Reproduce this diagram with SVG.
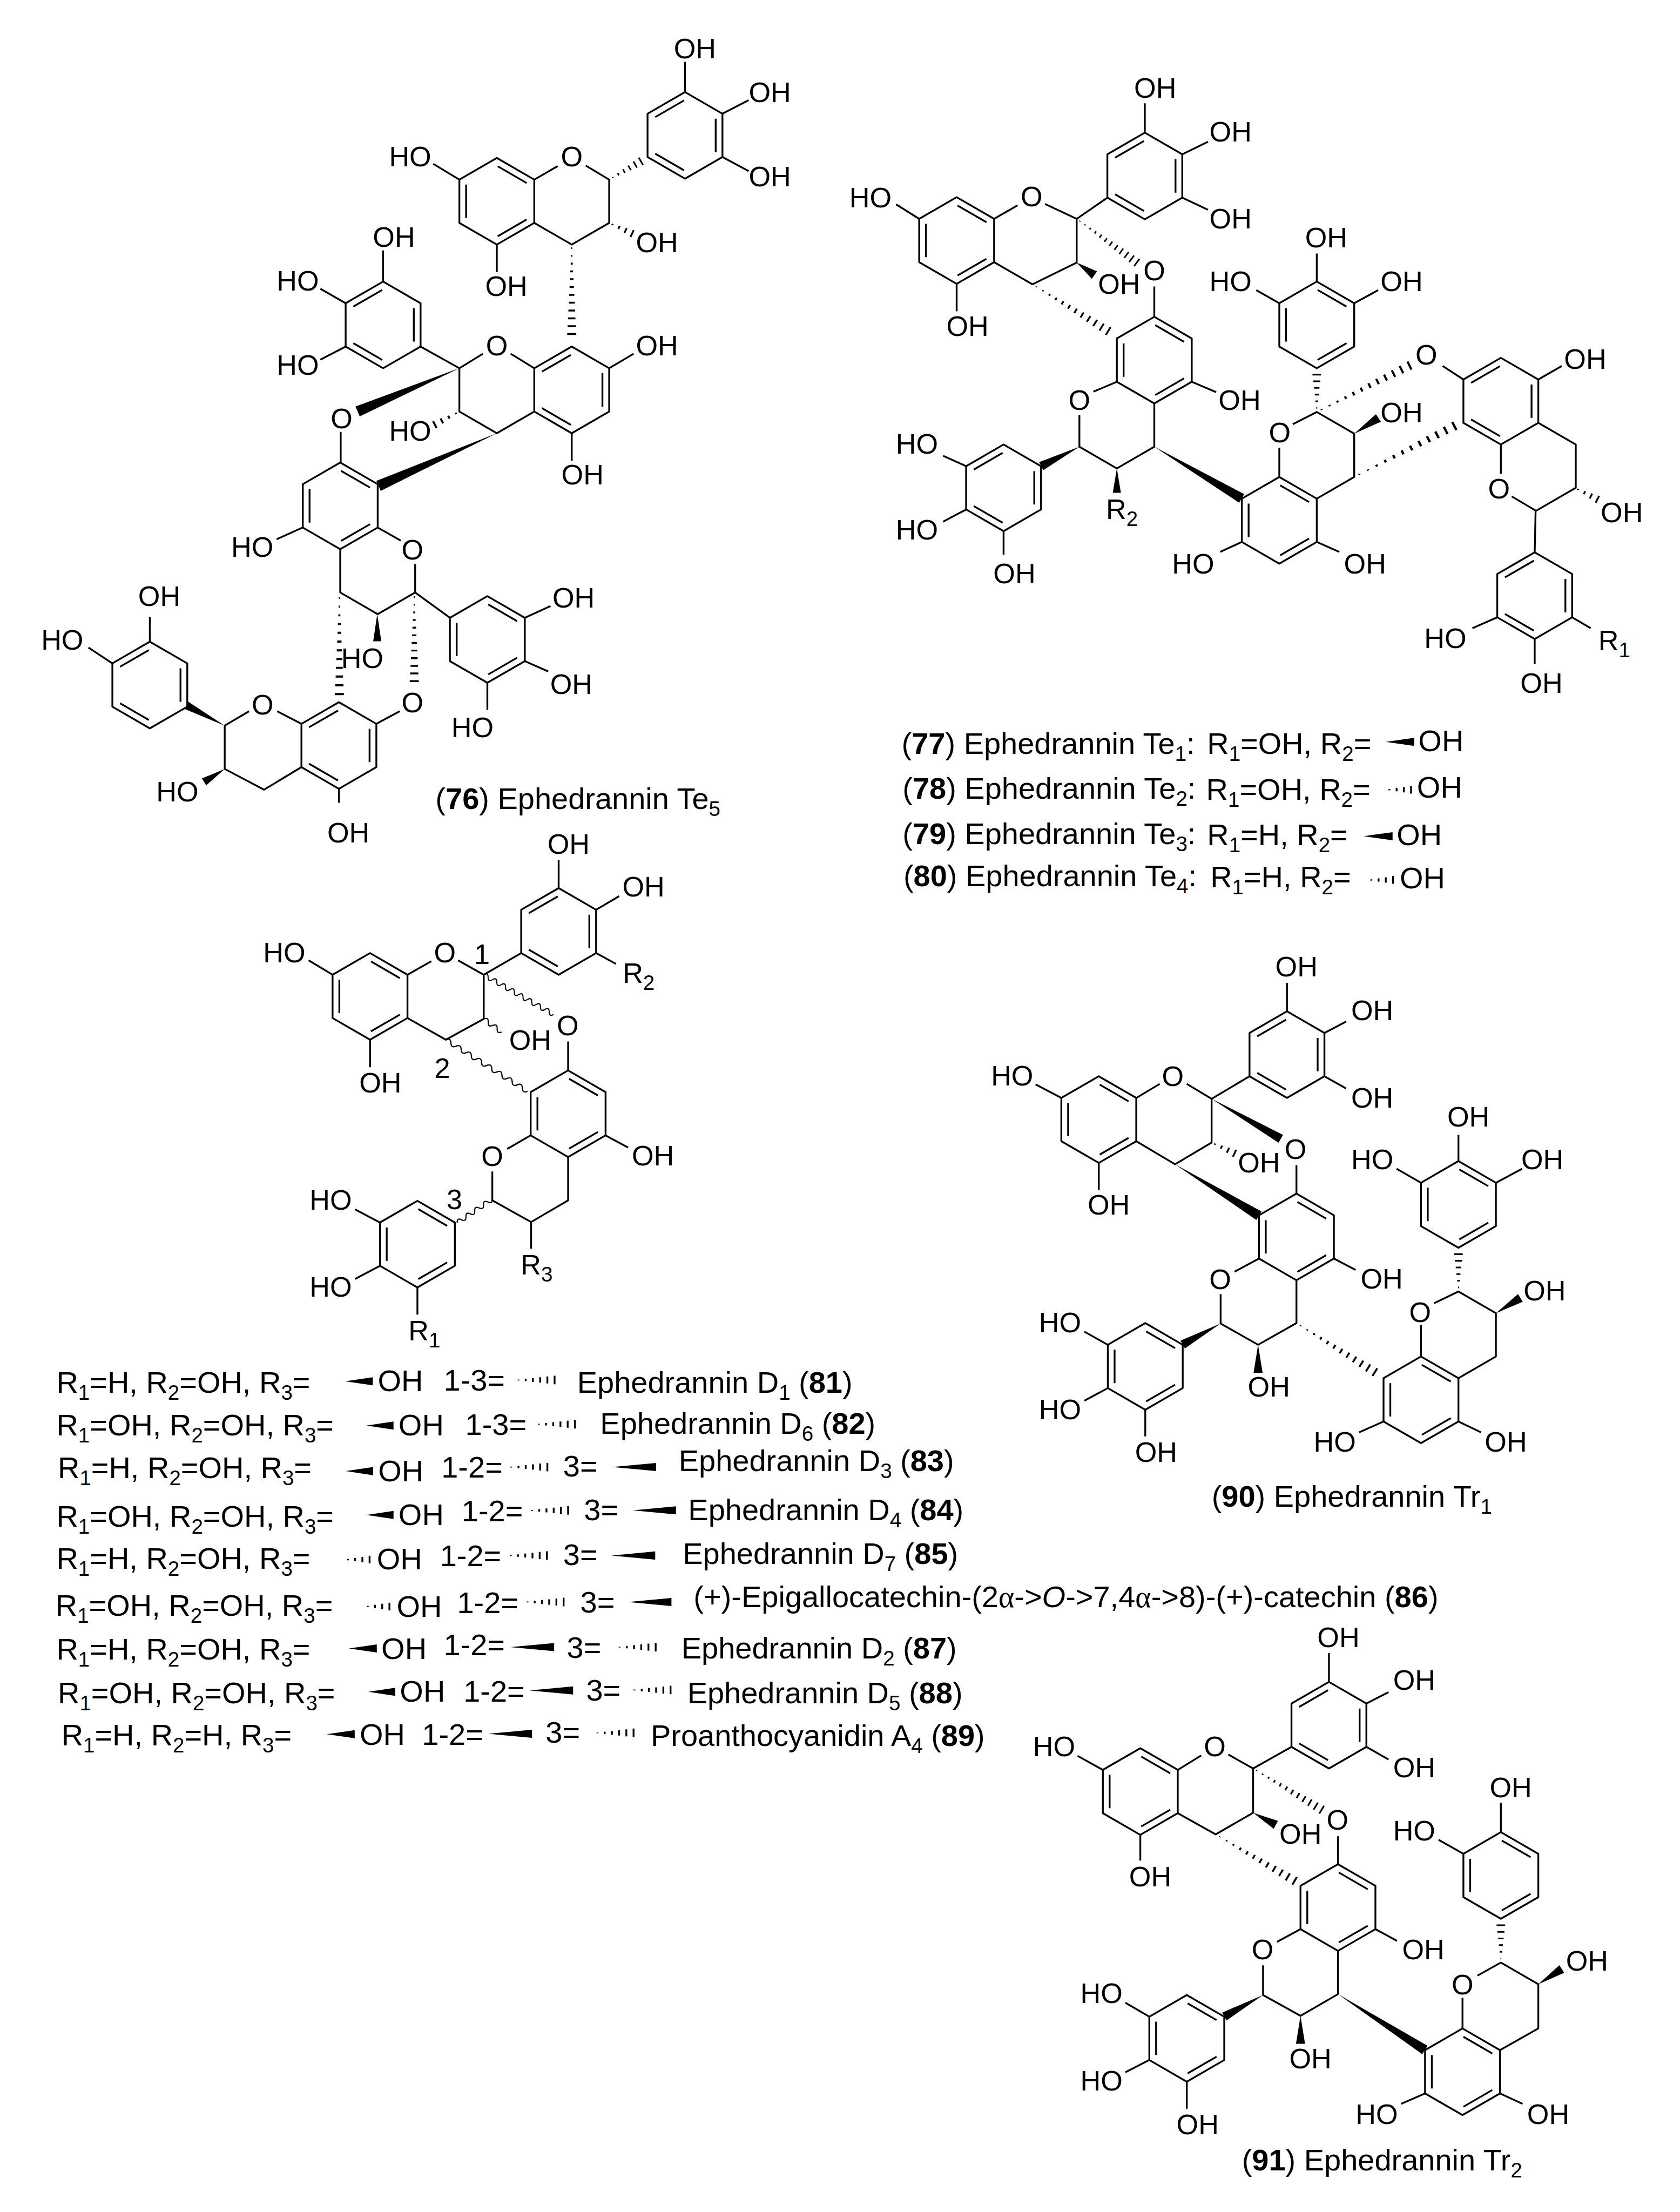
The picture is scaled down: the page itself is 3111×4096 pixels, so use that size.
<svg xmlns="http://www.w3.org/2000/svg" width="3111" height="4096" viewBox="0 0 3111 4096">
<style>
text{font-family:"Liberation Sans",Arial,sans-serif;fill:#000}
.a{font-size:62.5px;text-anchor:middle}
.c{font-size:67px}
.s{font-size:46px;baseline-shift:-15px}
.bd{font-weight:bold}
.b{fill:none;stroke:#000;stroke-width:4;stroke-linejoin:round}
.h{fill:none;stroke:#000;stroke-width:4}
.y{fill:none;stroke:#000;stroke-width:2.6}
.w{fill:#000}
</style>
<defs>
<g id="ra" class="b"><path d="M0-96L83-48V48L0 96L-83 48V-48Z"/><path d="M2-77.5L66-40.5M66 40.5L2 77.5M-68 37V-37"/></g>
<g id="rb" class="b"><path d="M0-96L83-48V48L0 96L-83 48V-48Z"/><path d="M68-37V37M-2 77.5L-66 40.5M-66-40.5L-2-77.5"/></g>
<path id="w" class="w" d="M0 0L100-10V10Z"/>
<path id="h60" class="h" d="M8-1.5V1.5M24-3.6V3.6M40-6V6M56-8.5V8.5"/>
<path id="h100" class="h" d="M10-1V1M26-2.7V2.7M42-4.4V4.4M58-6V6M74-7.8V7.8M90-9.5V9.5"/>
<path id="h200" class="h" d="M10-1V1M26.5-1.4V1.4M43-2.2V2.2M59.5-3.1V3.1M76-4V4M92.5-4.8V4.8M109-5.7V5.7M125.5-6.5V6.5M142-7.4V7.4M158.5-8.2V8.2M175-9.1V9.1M191.5-10V10"/>
<path id="v50" class="y" d="M0 0q6.25-10 12.5 0t12.5 0t12.5 0t12.5 0"/>
<path id="v100" class="y" d="M0 0q6.25-10 12.5 0t12.5 0t12.5 0t12.5 0t12.5 0t12.5 0t12.5 0t12.5 0"/>
<path id="v200" class="y" d="M0 0q6.25-10 12.5 0t12.5 0t12.5 0t12.5 0t12.5 0t12.5 0t12.5 0t12.5 0t12.5 0t12.5 0t12.5 0t12.5 0t12.5 0t12.5 0t12.5 0t12.5 0"/>
</defs>
<rect width="3111" height="4096" fill="#fff"/>
<g transform="scale(0.83562)">

<g id="c76">
<use href="#rb" x="1518" y="300"/><use href="#ra" x="1101" y="446"/><use href="#rb" x="1267" y="864"/><use href="#rb" x="849" y="720"/><use href="#ra" x="754" y="1121"/><use href="#ra" x="1080" y="1417"/><use href="#rb" x="751" y="1652"/><use href="#rb" x="332" y="1518"/>
<path class="b" d="M1184 398L1236 368M1298 367L1350 398V494L1267 542L1184 494M1518 204V137M1601 252L1659 222M1601 348L1659 379M1018 398L960 363M1101 542V603M1132 784L1184 816M1070 784L1018 816V912L1101 960L1184 912M1018 816L932 768M1350 816L1404 784M1267 960V1021M849 624V555M766 672L710 640M766 768L710 797M755 957V1025M671 1169L613 1195M837 1169L888 1198M920 1250V1313L837 1361L754 1313V1217M920 1313L997 1369M1163 1369L1220 1343M1163 1465L1215 1488M1080 1513V1573M834 1604L886 1576M751 1748V1779M668 1604L614 1576M552 1576L498 1608V1704L585 1750L668 1700M332 1422V1367M249 1470L196 1435"/>
<use href="#h100" transform="translate(1350 398) rotate(-30) scale(.9 1)"/>
<use href="#h60" transform="translate(1350 494) rotate(25)"/>
<use href="#h200" transform="translate(1267 539) rotate(90) scale(1.05 1)"/>
<use href="#w" transform="translate(1018 816) rotate(157) scale(2.45 1.2)"/>
<use href="#h60" transform="translate(1018 912) rotate(152) scale(1.1 1)"/>
<use href="#w" transform="translate(1101 960) rotate(156) scale(2.87 1.2)"/>
<use href="#w" transform="translate(836 1361) rotate(90) scale(.6 .9)"/>
<use href="#h200" transform="translate(752 1313) rotate(90) scale(1.175 1)"/>
<use href="#h200" transform="translate(918 1313) rotate(90) scale(1.025 1)"/>
<use href="#w" transform="translate(498 1608) rotate(208) scale(.96 .9)"/>
<use href="#w" transform="translate(498 1704) rotate(148) scale(.54 .9)"/>
<text class="a" x="1540" y="129">OH</text><text class="a" x="1706" y="226">OH</text><text class="a" x="1706" y="413">OH</text><text class="a" x="909" y="369">HO</text><text class="a" x="1267" y="369">O</text><text class="a" x="1122" y="656">OH</text><text class="a" x="1456" y="559">OH</text><text class="a" x="1456" y="787">OH</text><text class="a" x="1291" y="1074">OH</text><text class="a" x="873" y="547">OH</text><text class="a" x="660" y="644">HO</text><text class="a" x="660" y="831">HO</text><text class="a" x="1101" y="787">O</text><text class="a" x="757" y="949">O</text><text class="a" x="909" y="977">HO</text><text class="a" x="559" y="1234">HO</text><text class="a" x="914" y="1240">O</text><text class="a" x="1271" y="1346">OH</text><text class="a" x="1266" y="1538">OH</text><text class="a" x="1047" y="1634">HO</text><text class="a" x="803" y="1480">HO</text><text class="a" x="914" y="1579">O</text><text class="a" x="772" y="1867">OH</text><text class="a" x="582" y="1583">O</text><text class="a" x="353" y="1343">OH</text><text class="a" x="138" y="1440">HO</text><text class="a" x="393" y="1776">HO</text>
<text class="c" x="965" y="1793">(<tspan class="bd">76</tspan>) Ephedrannin Te<tspan class="s">5</tspan></text>
</g>

<g id="c77">
<use href="#rb" x="2537" y="390"/><use href="#ra" x="2120" y="533"/><use href="#ra" x="2558" y="798"/><use href="#rb" x="2224" y="1081"/><use href="#ra" x="2835" y="1153"/><use href="#ra" x="2918" y="720"/><use href="#rb" x="3326" y="889"/><use href="#rb" x="3401" y="1320"/>
<path class="b" d="M2537 294V229M2620 342L2677 314M2620 438L2677 465M2203 485L2255 455M2316 452L2386 485V582L2288 630L2203 581M2386 485L2454 438M2037 485L1986 453M2120 629V690M2558 702V635M2641 846L2695 869M2475 846L2423 868M2392 920V990L2475 1038L2558 990V894M2141 1033L2090 1010M2141 1129L2090 1156M2224 1177V1229M2752 1201L2704 1223M2918 1201L2968 1223M2835 1057V992M2865 940L2918 913L3001 961V1057L2918 1105M2918 624V562M2835 672L2784 643M3001 672L3054 643M3197 811L3243 841M3409 841L3461 811M3409 937L3492 985V1081L3404 1132L3350 1100M3326 1050V985M3403 1132L3401 1224M3318 1368L3263 1392M3484 1368L3525 1392M3401 1416V1471"/>
<use href="#h200" transform="translate(2386 485) rotate(36) scale(.86 1)"/>
<use href="#w" transform="translate(2386 582) rotate(35) scale(.48 1)"/>
<use href="#h200" transform="translate(2288 630) rotate(31.7) scale(1.03 1)"/>
<use href="#w" transform="translate(2392 990) rotate(153) scale(.95 1)"/>
<use href="#w" transform="translate(2475 1038) rotate(90) scale(.54 .9)"/>
<use href="#w" transform="translate(2558 990) rotate(30.6) scale(2.25 1.1)"/>
<use href="#h100" transform="translate(2918 913) rotate(-90) scale(.92 1)"/>
<use href="#w" transform="translate(3001 961) rotate(-33) scale(.64 1)"/>
<use href="#h200" transform="translate(3001 1057) rotate(-27) scale(1.3 1)"/>
<use href="#h200" transform="translate(2918 913) rotate(-26.6) scale(1.2 1)"/>
<use href="#h60" transform="translate(3490 1081) rotate(27)"/>
<text class="a" x="2560" y="217">OH</text><text class="a" x="2727" y="314">OH</text><text class="a" x="2727" y="506">OH</text><text class="a" x="1929" y="459">HO</text><text class="a" x="2286" y="457">O</text><text class="a" x="2144" y="744">OH</text><text class="a" x="2480" y="651">OH</text><text class="a" x="2558" y="621">O</text><text class="a" x="2747" y="908">OH</text><text class="a" x="2392" y="908">O</text><text class="a" x="2032" y="1005">HO</text><text class="a" x="2032" y="1196">HO</text><text class="a" x="2248" y="1293">OH</text><text class="a" x="2644" y="1271">HO</text><text class="a" x="3025" y="1271">OH</text><text class="a" x="2836" y="980">O</text><text class="a" x="2939" y="548">OH</text><text class="a" x="2727" y="645">HO</text><text class="a" x="3106" y="645">OH</text><text class="a" x="3106" y="936">OH</text><text class="a" x="3161" y="808">O</text><text class="a" x="3513" y="817">OH</text><text class="a" x="3322" y="1105">O</text><text class="a" x="3594" y="1157">OH</text><text class="a" x="3203" y="1436">HO</text><text class="a" x="3416" y="1535">OH</text>
<text class="a" style="text-anchor:start" x="2451" y="1150">R<tspan class="s">2</tspan></text>
<text class="a" style="text-anchor:start" x="3542" y="1441">R<tspan class="s">1</tspan></text>
</g>

<g id="c77-80-labels">
<text class="c" x="1998" y="1671">(<tspan class="bd">77</tspan>) Ephedrannin Te<tspan class="s">1</tspan>:</text><text class="c" x="2675" y="1671">R<tspan class="s">1</tspan>=OH, R<tspan class="s">2</tspan>=</text>
<use href="#w" transform="translate(3071 1644) scale(.63 .9)"/><text class="c" x="3143" y="1665">OH</text>
<text class="c" x="2000" y="1770">(<tspan class="bd">78</tspan>) Ephedrannin Te<tspan class="s">2</tspan>:</text><text class="c" x="2673" y="1772">R<tspan class="s">1</tspan>=OH, R<tspan class="s">2</tspan>=</text>
<use href="#h60" transform="translate(3071 1750)"/><text class="c" x="3140" y="1768">OH</text>
<text class="c" x="2000" y="1871">(<tspan class="bd">79</tspan>) Ephedrannin Te<tspan class="s">3</tspan>:</text><text class="c" x="2675" y="1873">R<tspan class="s">1</tspan>=H, R<tspan class="s">2</tspan>=</text>
<use href="#w" transform="translate(3022 1853) scale(.64 .9)"/><text class="c" x="3095" y="1873">OH</text>
<text class="c" x="2002" y="1964">(<tspan class="bd">80</tspan>) Ephedrannin Te<tspan class="s">4</tspan>:</text><text class="c" x="2682" y="1966">R<tspan class="s">1</tspan>=H, R<tspan class="s">2</tspan>=</text>
<use href="#h60" transform="translate(3031 1950)"/><text class="c" x="3102" y="1968">OH</text>
</g>

<g id="c81-89">
<use href="#rb" x="1238" y="2064"/><use href="#ra" x="820" y="2208"/><use href="#ra" x="1259" y="2468"/><use href="#ra" x="925" y="2757"/>
<path class="b" d="M1238 1968V1906M1321 2016L1372 1986M1321 2112L1365 2136M903 2160L956 2130M1015 2128L1072 2160V2258L988 2304L903 2256M1072 2160L1155 2112M737 2160L684 2128M820 2304V2365M1259 2372V2308M1342 2516L1392 2543M1176 2516L1124 2546M1091 2596V2660L1177 2708L1259 2660V2564M1177 2708V2767M842 2709L787 2680M842 2805L787 2834M925 2853V2913"/>
<use href="#v200" transform="translate(1072 2160) rotate(29.6) scale(.89 1)"/>
<use href="#v50" transform="translate(1072 2258) rotate(36) scale(.98 1)"/>
<use href="#v200" transform="translate(988 2304) rotate(32.3) scale(1.07 1)"/>
<use href="#v100" transform="translate(1091 2657) rotate(146) scale(.94 1)"/>
<text class="a" x="1260" y="1892">OH</text><text class="a" x="1426" y="1986">OH</text><text class="a" x="630" y="2132">HO</text><text class="a" x="986" y="2132">O</text><text class="a" x="843" y="2421">OH</text><text class="a" x="1175" y="2327">OH</text><text class="a" x="1258" y="2294">O</text><text class="a" x="1447" y="2583">OH</text><text class="a" x="1091" y="2584">O</text><text class="a" x="733" y="2681">HO</text><text class="a" x="733" y="2873">HO</text>
<text class="a" style="text-anchor:start" x="1380" y="2178">R<tspan class="s">2</tspan></text>
<text class="a" style="text-anchor:start" x="1154" y="2824">R<tspan class="s">3</tspan></text>
<text class="a" style="text-anchor:start" x="905" y="2970">R<tspan class="s">1</tspan></text>
<text class="a" x="1068" y="2136">1</text><text class="a" x="980" y="2389">2</text><text class="a" x="1007" y="2680">3</text>
</g>

<g id="list">
<text class="c" x="125" y="3086">R<tspan class="s">1</tspan>=H, R<tspan class="s">2</tspan>=OH, R<tspan class="s">3</tspan>=</text><use href="#w" transform="translate(765 3061) scale(.61 .9)"/><text class="c" x="837" y="3083">OH</text><text class="c" x="983" y="3082">1-3=</text><use href="#h100" transform="translate(1139 3058)"/><text class="c" x="1279" y="3086">Ephedrannin D<tspan class="s">1</tspan> (<tspan class="bd">81</tspan>)</text>

<text class="c" x="125" y="3181">R<tspan class="s">1</tspan>=OH, R<tspan class="s">2</tspan>=OH, R<tspan class="s">3</tspan>=</text><use href="#w" transform="translate(812 3159) scale(.6 .9)"/><text class="c" x="883" y="3181">OH</text><text class="c" x="1031" y="3180">1-3=</text><use href="#h100" transform="translate(1184 3156)"/><text class="c" x="1330" y="3177">Ephedrannin D<tspan class="s">6</tspan> (<tspan class="bd">82</tspan>)</text>

<text class="c" x="128" y="3275">R<tspan class="s">1</tspan>=H, R<tspan class="s">2</tspan>=OH, R<tspan class="s">3</tspan>=</text><use href="#w" transform="translate(766 3260) scale(.61 .9)"/><text class="c" x="838" y="3283">OH</text><text class="c" x="978" y="3274">1-2=</text><use href="#h100" transform="translate(1123 3251)"/><text class="c" x="1248" y="3272">3=</text><use href="#w" transform="translate(1357 3251) scale(.97 .9)"/><text class="c" x="1504" y="3260">Ephedrannin D<tspan class="s">3</tspan> (<tspan class="bd">83</tspan>)</text>

<text class="c" x="125" y="3383">R<tspan class="s">1</tspan>=OH, R<tspan class="s">2</tspan>=OH, R<tspan class="s">3</tspan>=</text><use href="#w" transform="translate(812 3357) scale(.6 .9)"/><text class="c" x="883" y="3380">OH</text><text class="c" x="1023" y="3371">1-2=</text><use href="#h100" transform="translate(1169 3347)"/><text class="c" x="1294" y="3369">3=</text><use href="#w" transform="translate(1402 3347) scale(.96 .9)"/><text class="c" x="1525" y="3369">Ephedrannin D<tspan class="s">4</tspan> (<tspan class="bd">84</tspan>)</text>

<text class="c" x="125" y="3476">R<tspan class="s">1</tspan>=H, R<tspan class="s">2</tspan>=OH, R<tspan class="s">3</tspan>=</text><use href="#h60" transform="translate(763 3456)"/><text class="c" x="835" y="3478">OH</text><text class="c" x="975" y="3470">1-2=</text><use href="#h100" transform="translate(1122 3447)"/><text class="c" x="1248" y="3468">3=</text><use href="#w" transform="translate(1355 3447) scale(.97 .9)"/><text class="c" x="1513" y="3466">Ephedrannin D<tspan class="s">7</tspan> (<tspan class="bd">85</tspan>)</text>

<text class="c" x="123" y="3580">R<tspan class="s">1</tspan>=OH, R<tspan class="s">2</tspan>=OH, R<tspan class="s">3</tspan>=</text><use href="#h60" transform="translate(807 3560)"/><text class="c" x="879" y="3583">OH</text><text class="c" x="1013" y="3574">1-2=</text><use href="#h100" transform="translate(1159 3550)"/><text class="c" x="1286" y="3573">3=</text><use href="#w" transform="translate(1392 3550) scale(.96 .9)"/><text class="c" x="1537" y="3562">(+)-Epigallocatechin-(2<tspan font-family="Liberation Serif">α</tspan>-&gt;<tspan font-style="italic">O</tspan>-&gt;7,4<tspan font-family="Liberation Serif">α</tspan>-&gt;8)-(+)-catechin (<tspan class="bd">86</tspan>)</text>

<text class="c" x="125" y="3678">R<tspan class="s">1</tspan>=H, R<tspan class="s">2</tspan>=OH, R<tspan class="s">3</tspan>=</text><use href="#w" transform="translate(773 3653) scale(.62 .9)"/><text class="c" x="845" y="3676">OH</text><text class="c" x="983" y="3668">1-2=</text><use href="#w" transform="translate(1131 3650) scale(.97 .9)"/><text class="c" x="1256" y="3674">3=</text><use href="#h100" transform="translate(1363 3650)"/><text class="c" x="1510" y="3675">Ephedrannin D<tspan class="s">2</tspan> (<tspan class="bd">87</tspan>)</text>

<text class="c" x="128" y="3774">R<tspan class="s">1</tspan>=OH, R<tspan class="s">2</tspan>=OH, R<tspan class="s">3</tspan>=</text><use href="#w" transform="translate(816 3749) scale(.6 .9)"/><text class="c" x="886" y="3771">OH</text><text class="c" x="1027" y="3771">1-2=</text><use href="#w" transform="translate(1173 3746) scale(.97 .9)"/><text class="c" x="1299" y="3768">3=</text><use href="#h100" transform="translate(1396 3745)"/><text class="c" x="1523" y="3774">Ephedrannin D<tspan class="s">5</tspan> (<tspan class="bd">88</tspan>)</text>

<text class="c" x="136" y="3868">R<tspan class="s">1</tspan>=H, R<tspan class="s">2</tspan>=H, R<tspan class="s">3</tspan>=</text><use href="#w" transform="translate(724 3843) scale(.62 .9)"/><text class="c" x="797" y="3866">OH</text><text class="c" x="935" y="3866">1-2=</text><use href="#w" transform="translate(1082 3842) scale(.97 .9)"/><text class="c" x="1209" y="3862">3=</text><use href="#h100" transform="translate(1314 3840)"/><text class="c" x="1442" y="3869">Proanthocyanidin A<tspan class="s">4</tspan> (<tspan class="bd">89</tspan>)</text>
</g>

<g id="c90">
<use href="#rb" x="2852" y="2337"/><use href="#ra" x="2435" y="2481"/><use href="#ra" x="2873" y="2741"/><use href="#ra" x="2538" y="3028"/><use href="#ra" x="3149" y="3102"/><use href="#ra" x="3232" y="2669"/>
<path class="b" d="M2852 2241V2178M2935 2289L2983 2264M2935 2385L2983 2412M2518 2433L2570 2402M2630 2402L2685 2435V2532L2604 2580L2518 2529M2685 2435L2769 2385M2352 2433L2295 2403M2435 2577V2637M2873 2645V2582M2956 2789L3004 2814M2790 2789L2736 2818M2705 2868V2933L2788 2980L2873 2932V2837M2455 2980L2403 2951M2455 3076L2403 3104M2538 3124V3183M3066 3150L3012 3174M3232 3150L3282 3174M3149 2936V3006M3178 2888L3232 2862L3315 2910V3006L3232 3054M3232 2573V2515M3149 2621L3095 2590M3315 2621L3373 2590"/>
<use href="#w" transform="translate(2685 2435) rotate(30) scale(1.77 1)"/>
<use href="#h60" transform="translate(2685 2532) rotate(25)"/>
<use href="#w" transform="translate(2604 2580) rotate(31.5) scale(2.18 1.1)"/>
<use href="#w" transform="translate(2705 2933) rotate(151) scale(.96 1)"/>
<use href="#w" transform="translate(2788 2980) rotate(90) scale(.62 1)"/>
<use href="#h200" transform="translate(2873 2932) rotate(32) scale(1.07 1)"/>
<use href="#h100" transform="translate(3232 2862) rotate(-90) scale(.92 1)"/>
<use href="#w" transform="translate(3315 2910) rotate(-32) scale(.64 1)"/>
<text class="a" x="2873" y="2164">OH</text><text class="a" x="3041" y="2260">OH</text><text class="a" x="3041" y="2454">OH</text><text class="a" x="2243" y="2405">HO</text><text class="a" x="2599" y="2406">O</text><text class="a" x="2457" y="2692">OH</text><text class="a" x="2871" y="2568">O</text><text class="a" x="2790" y="2598">OH</text><text class="a" x="3062" y="2855">OH</text><text class="a" x="2704" y="2856">O</text><text class="a" x="2349" y="2952">HO</text><text class="a" x="2349" y="3145">HO</text><text class="a" x="2562" y="3240">OH</text><text class="a" x="2812" y="3095">OH</text><text class="a" x="3041" y="2591">HO</text><text class="a" x="3254" y="2496">OH</text><text class="a" x="3418" y="2591">OH</text><text class="a" x="3423" y="2882">OH</text><text class="a" x="3147" y="2929">O</text><text class="a" x="2958" y="3217">HO</text><text class="a" x="3337" y="3217">OH</text>
<text class="c" x="2685" y="3339">(<tspan class="bd">90</tspan>) Ephedrannin Tr<tspan class="s">1</tspan></text>
</g>

<g id="c91">
<use href="#rb" x="2945" y="3823"/><use href="#ra" x="2527" y="3970"/><use href="#ra" x="2965" y="4227"/><use href="#ra" x="2630" y="4517"/><use href="#ra" x="3241" y="4591"/><use href="#ra" x="3326" y="4156"/>
<path class="b" d="M2945 3727V3663M3028 3775L3077 3750M3028 3871L3077 3899M2610 3922L2662 3890M2722 3888L2777 3919V4017L2694 4065L2610 4018M2777 3919L2862 3871M2444 3922L2388 3891M2527 4066V4123M2965 4131V4069M3048 4275L3096 4301M2882 4275L2830 4303M2799 4355V4421L2882 4467L2965 4419V4323M2547 4469L2494 4438M2547 4565L2494 4592M2630 4613V4673M3158 4639L3105 4662M3324 4639L3374 4662M3241 4427V4495M3274 4378L3326 4349L3409 4397V4495L3324 4543M3326 4060V3995M3243 4108L3188 4077"/>
<use href="#h200" transform="translate(2777 3919) rotate(31) scale(.925 1)"/>
<use href="#w" transform="translate(2777 4017) rotate(28) scale(.57 1)"/>
<use href="#h200" transform="translate(2694 4065) rotate(30.5) scale(1.06 1)"/>
<use href="#w" transform="translate(2799 4421) rotate(151) scale(.98 1)"/>
<use href="#w" transform="translate(2882 4467) rotate(90) scale(.62 1)"/>
<use href="#w" transform="translate(2965 4419) rotate(32.7) scale(2.29 1.1)"/>
<use href="#h100" transform="translate(3326 4349) rotate(-90) scale(.92 1)"/>
<use href="#w" transform="translate(3409 4397) rotate(-33) scale(.62 1)"/>
<text class="a" x="2966" y="3650">OH</text><text class="a" x="3134" y="3745">OH</text><text class="a" x="3134" y="3938">OH</text><text class="a" x="2336" y="3892">HO</text><text class="a" x="2692" y="3892">O</text><text class="a" x="2549" y="4180">OH</text><text class="a" x="2964" y="4054">O</text><text class="a" x="2882" y="4085">OH</text><text class="a" x="3154" y="4342">OH</text><text class="a" x="2798" y="4342">O</text><text class="a" x="2441" y="4439">HO</text><text class="a" x="2441" y="4633">HO</text><text class="a" x="2654" y="4730">OH</text><text class="a" x="2904" y="4584">OH</text><text class="a" x="3134" y="4079">HO</text><text class="a" x="3348" y="3983">OH</text><text class="a" x="3517" y="4367">OH</text><text class="a" x="3241" y="4419">O</text><text class="a" x="3051" y="4707">HO</text><text class="a" x="3431" y="4707">OH</text>
<text class="c" x="2752" y="4810">(<tspan class="bd">91</tspan>) Ephedrannin Tr<tspan class="s">2</tspan></text>
</g>

</g>
</svg>
